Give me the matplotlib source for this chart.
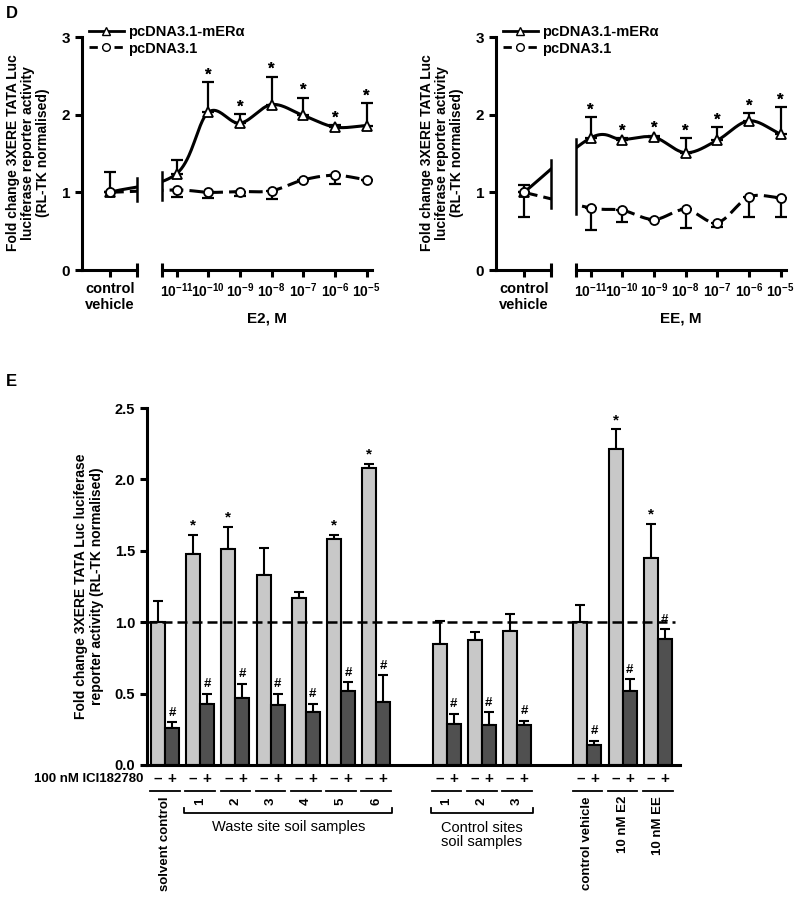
import numpy as np
import matplotlib
matplotlib.use("Agg")
import matplotlib.pyplot as plt
from matplotlib.lines import Line2D

plt.rcParams['font.family'] = ['Liberation Sans', 'DejaVu Sans']
plt.rcParams['font.weight'] = 'bold'
plt.rcParams['axes.labelweight'] = 'bold'
plt.rcParams['mathtext.fontset'] = 'custom'
plt.rcParams['mathtext.rm'] = 'Liberation Sans:bold'
plt.rcParams['mathtext.default'] = 'rm'

# ---- panel D data ----
dose_labels = ['10$^{-11}$', '10$^{-10}$', '10$^{-9}$', '10$^{-8}$', '10$^{-7}$', '10$^{-6}$', '10$^{-5}$']

# E2 (control vehicle first, then doses)
e2_mer = [1.00, 1.24, 2.03, 1.89, 2.13, 1.99, 1.84, 1.86]
e2_mer_err = [0.26, 0.18, 0.39, 0.12, 0.36, 0.23, 0.03, 0.29]
e2_pc = [1.00, 1.03, 1.00, 1.01, 1.02, 1.16, 1.22, 1.16]
e2_pc_err = [0.00, 0.09, 0.07, 0.06, 0.10, 0.00, 0.11, 0.00]
e2_star = [False, False, True, True, True, True, True, True]

# EE
ee_mer = [1.00, 1.70, 1.68, 1.71, 1.51, 1.67, 1.92, 1.75]
ee_mer_err = [0.09, 0.27, 0.02, 0.02, 0.19, 0.17, 0.10, 0.35]
ee_pc = [1.00, 0.80, 0.77, 0.65, 0.78, 0.61, 0.94, 0.93]
ee_pc_err = [0.32, 0.28, 0.15, 0.00, 0.24, 0.06, 0.26, 0.25]
ee_star = [False, True, True, True, True, True, True, True]

# ---- panel E data ----
minus_vals = [1.00, 1.48, 1.51, 1.33, 1.17, 1.58, 2.08, 0.85, 0.875, 0.94, 1.00, 2.21, 1.45]
minus_err = [0.15, 0.13, 0.16, 0.19, 0.04, 0.03, 0.03, 0.16, 0.055, 0.12, 0.12, 0.14, 0.24]
minus_star = [False, True, True, False, False, True, True, False, False, False, False, True, True]
plus_vals = [0.26, 0.43, 0.47, 0.42, 0.37, 0.52, 0.44, 0.29, 0.28, 0.28, 0.14, 0.52, 0.88]
plus_err = [0.04, 0.07, 0.10, 0.08, 0.06, 0.06, 0.19, 0.07, 0.09, 0.03, 0.03, 0.08, 0.07]
group_pos = [0, 1, 2, 3, 4, 5, 6, 8, 9, 10, 12, 13, 14]
waste_labels = ['1', '2', '3', '4', '5', '6']
ctrl_labels = ['1', '2', '3']
pos_labels = ['control vehicle', '10 nM E2', '10 nM EE']

W, H = 800, 907
fig = plt.figure(figsize=(W / 100, H / 100), dpi=100)


def px_axes(l, r, top, bottom):
    return fig.add_axes([l / W, 1 - bottom / H, (r - l) / W, (bottom - top) / H])


def catmull(xs, ys, n=40):
    p = np.column_stack([xs, ys]).astype(float)
    p = np.vstack([2 * p[0] - p[1], p, 2 * p[-1] - p[-2]])
    out = []
    for i in range(1, len(p) - 2):
        p0, p1, p2, p3 = p[i - 1], p[i], p[i + 1], p[i + 2]
        t = np.linspace(0, 1, n)[:, None]
        seg = 0.5 * ((2 * p1) + (-p0 + p2) * t + (2 * p0 - 5 * p1 + 4 * p2 - p3) * t ** 2
                     + (-p0 + 3 * p1 - 3 * p2 + p3) * t ** 3)
        out.append(seg)
    c = np.vstack(out)
    return c[:, 0], c[:, 1]


xpos = np.concatenate([[0.0], np.arange(7) + 2.1])
lw_ax = 2.2


def style_ax(ax):
    for s in ['top', 'right']:
        ax.spines[s].set_visible(False)
    for s in ['left', 'bottom']:
        ax.spines[s].set_linewidth(lw_ax)
    ax.tick_params(width=lw_ax, length=5, labelsize=10.5)
    ax.set_facecolor('none')


def panel_d(x0, mer, mer_err, pc, pc_err, star, xlab):
    axl = px_axes(x0, x0 + 55, 37, 270)
    axr = px_axes(x0 + 80, x0 + 290, 37, 270)
    axl.set_xlim(-0.884, 0.852)
    axr.set_xlim(1.64, 8.27)
    cm = catmull(xpos, mer)
    cp = catmull(xpos, pc)
    for ax in (axl, axr):
        style_ax(ax)
        ax.set_ylim(0, 3)
        ax.errorbar(xpos, mer, yerr=[np.zeros(8), mer_err], fmt='none', ecolor='black',
                    elinewidth=1.6, capsize=4, capthick=1.6, zorder=2)
        ax.errorbar(xpos, pc, yerr=[pc_err, np.zeros(8)], fmt='none', ecolor='black',
                    elinewidth=1.6, capsize=4, capthick=1.6, zorder=2)
        ax.plot(cm[0], cm[1], color='black', lw=2.2, zorder=3)
        ax.plot(cp[0], cp[1], color='black', lw=2.2, ls=(0, (4.5, 2)), zorder=3)
        ax.plot(xpos, mer, ls='none', marker='^', ms=7, mfc='white', mec='black', mew=1.3, zorder=4)
        ax.plot(xpos, pc, ls='none', marker='o', ms=6.5, mfc='white', mec='black', mew=1.3, zorder=4)
        for xi, yi, ei, s in zip(xpos, mer, mer_err, star):
            if s:
                ax.text(xi, yi + ei + 0.09, '*', ha='center', va='center', fontsize=12, clip_on=False)
    axl.set_yticks([0, 1, 2, 3])
    axl.set_yticklabels(['0', '1', '2', '3'], fontsize=11)
    axr.spines['left'].set_visible(False)
    axr.set_yticks([])
    axl.set_xticks([0])
    axl.set_xticklabels(['control\nvehicle'], fontsize=10.5)
    axr.set_xticks(xpos[1:])
    axr.set_xticklabels(dose_labels, fontsize=10)
    axl.set_xticks([axl.get_xlim()[1]], minor=True)
    axr.set_xticks([axr.get_xlim()[0]], minor=True)
    for ax in (axl, axr):
        ax.tick_params(axis='x', which='minor', direction='inout', length=10, width=lw_ax)
    axr.set_xlabel(xlab, fontsize=11, fontweight='bold', labelpad=8)
    # break marks on the curves
    for ax, xe in ((axl, axl.get_xlim()[1]), (axr, axr.get_xlim()[0])):
        ya = np.interp(xe, cm[0], cm[1])
        yb = np.interp(xe, cp[0], cp[1])
        ax.plot([xe, xe], [min(ya, yb) - 0.12, max(ya, yb) + 0.12], color='black', lw=1.8,
                clip_on=False, zorder=5)
    handles = [Line2D([], [], color='black', lw=2, marker='^', ms=6, mfc='white', mec='black'),
               Line2D([], [], color='black', lw=2, ls=(0, (3, 1.5)), marker='o', ms=5.5, mfc='white',
                      mec='black')]
    axl.legend(handles, ['pcDNA3.1-mERα', 'pcDNA3.1'], loc='upper left',
               bbox_to_anchor=(0.12, 1.05), frameon=False, fontsize=10.5, handlelength=2.4,
               handletextpad=0.3, labelspacing=0.15, borderpad=0, borderaxespad=0)
    fig.text((x0 - 54) / W, 1 - 153 / H,
             'Fold change 3XERE TATA Luc\nluciferase reporter activity\n(RL-TK normalised)',
             rotation=90, ha='center', va='center', fontsize=10, linespacing=1.1)


panel_d(82, e2_mer, e2_mer_err, e2_pc, e2_pc_err, e2_star, 'E2, M')
panel_d(496, ee_mer, ee_mer_err, ee_pc, ee_pc_err, ee_star, 'EE, M')

fig.text(6 / W, 1 - 14 / H, 'D', fontsize=12, ha='left', va='center')
fig.text(6 / W, 1 - 382 / H, 'E', fontsize=12, ha='left', va='center')

# ---- panel E ----
ax = px_axes(147, 680, 408, 765)
style_ax(ax)
ax.set_xlim(-0.511, 14.63)
ax.set_ylim(0, 2.5)
ax.set_yticks([0, 0.5, 1.0, 1.5, 2.0, 2.5])
ax.set_yticklabels(['0.0', '0.5', '1.0', '1.5', '2.0', '2.5'], fontsize=10.5)
ax.set_xticks([])
gp = np.array(group_pos, dtype=float)
bw = 0.4
ax.bar(gp - bw / 2, minus_vals, width=bw, color='#c8c8c8', edgecolor='black', linewidth=1.5, zorder=2)
ax.bar(gp + bw / 2, plus_vals, width=bw, color='#505050', edgecolor='black', linewidth=1.5, zorder=2)
ax.errorbar(gp - bw / 2, minus_vals, yerr=[np.zeros(len(gp)), minus_err], fmt='none', ecolor='black',
            elinewidth=1.5, capsize=3.5, capthick=1.5, zorder=1)
ax.errorbar(gp + bw / 2, plus_vals, yerr=[np.zeros(len(gp)), plus_err], fmt='none', ecolor='black',
            elinewidth=1.5, capsize=3.5, capthick=1.5, zorder=1)
ax.axhline(1.0, xmax=0.99, color='black', lw=1.8, ls=(0, (4, 2)), zorder=3)
for xi, v, e, s in zip(gp, minus_vals, minus_err, minus_star):
    if s:
        ax.text(xi - bw / 2, v + e + 0.065, '*', ha='center', va='center', fontsize=11)
for xi, v, e in zip(gp, plus_vals, plus_err):
    ax.text(xi + bw / 2, v + e + 0.065, '#', ha='center', va='center', fontsize=9.5)

tr = ax.get_xaxis_transform()


def fy(px):
    return (765 - px) / 357


ax.text(-0.006, fy(779), '100 nM ICI182780', transform=ax.transAxes, ha='right', va='center',
        fontsize=9.5)
for xi in gp:
    ax.text(xi - bw / 2, fy(779), '–', transform=tr, ha='center', va='center', fontsize=11)
    ax.text(xi + bw / 2, fy(779), '+', transform=tr, ha='center', va='center', fontsize=11)
    ax.plot([xi - 0.42, xi + 0.42], [fy(791), fy(791)], transform=tr, color='black', lw=1.3,
            clip_on=False)

ax.text(gp[0], fy(796), 'solvent control', transform=tr, rotation=90, ha='center', va='top',
        fontsize=9.5)
for xi, lab in zip(gp[1:7], waste_labels):
    ax.text(xi, fy(801), lab, transform=tr, rotation=90, ha='center', va='center', fontsize=9.5)
for xi, lab in zip(gp[7:10], ctrl_labels):
    ax.text(xi, fy(801), lab, transform=tr, rotation=90, ha='center', va='center', fontsize=9.5)
for xi, lab in zip(gp[10:], pos_labels):
    ax.text(xi, fy(796), lab, transform=tr, rotation=90, ha='center', va='top', fontsize=9.5)


def bracket(xa, xb, label, ytext):
    yb = fy(813)
    ax.plot([xa, xa, xb, xb], [fy(808), yb, yb, fy(808)], transform=tr, color='black', lw=1.3,
            clip_on=False)
    ax.text((xa + xb) / 2, ytext, label, transform=tr, ha='center', va='center', fontsize=10.5,
            fontweight='normal', linespacing=1.05)


bracket(gp[1] - 0.45, gp[6] + 0.45, 'Waste site soil samples', fy(827))
bracket(gp[7] - 0.45, gp[9] + 0.45, 'Control sites\nsoil samples', fy(835))

fig.text(89 / W, 1 - 586 / H,
         'Fold change 3XERE TATA Luc luciferase\nreporter activity (RL-TK normalised)',
         rotation=90, ha='center', va='center', fontsize=10, linespacing=1.1)

fig.savefig('out.png', dpi=100)
